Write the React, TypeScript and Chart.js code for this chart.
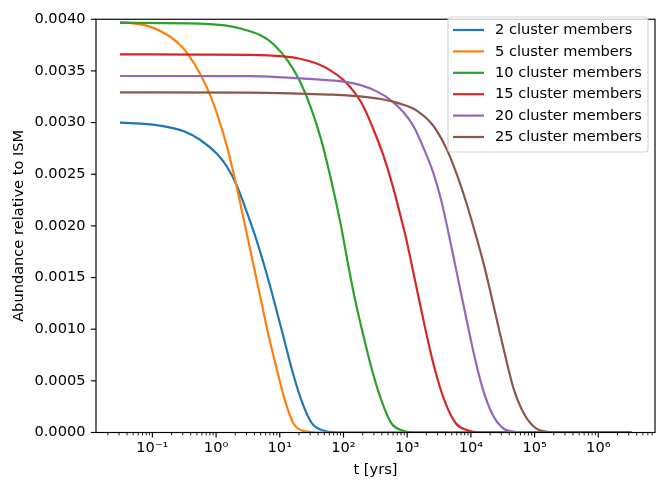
import React, { useEffect, useRef } from 'react';
import { Chart, registerables } from 'chart.js';

Chart.register(...registerables);

const seriesLabels = [
  '2 cluster members',
  '5 cluster members',
  '10 cluster members',
  '15 cluster members',
  '20 cluster members',
  '25 cluster members',
];
const seriesColors = ['#1f77b4', '#ff7f0e', '#2ca02c', '#d62728', '#9467bd', '#8c564b'];

const t2 = [0.031, 0.0533, 0.0917, 0.1677, 0.3055, 0.5587, 1.022, 1.467, 2.053, 2.742, 4.155, 5.964, 8.256, 11.23, 15.26, 21.91, 32.03, 51.23, 88.1, 3.3e6];
const y2 = [0.0030, 0.002993, 0.002982, 0.002959, 0.002918, 0.002834, 0.0027, 0.002577, 0.002409, 0.002209, 0.001893, 0.001575, 0.001259, 0.000943, 0.000625, 0.000309, 0.0000874, 0.0000143, 0, 0];

const t5 = [0.031, 0.05013, 0.0917, 0.1677, 0.2711, 0.3661, 0.5587, 0.8019, 1.083, 1.467, 2.053, 2.415, 3.111, 4.007, 5.16, 6.645, 8.876, 12.07, 16.41, 23.99, 39.79, 3.3e6];
const y5 = [0.003973, 0.003961, 0.003929, 0.003853, 0.003753, 0.003658, 0.003475, 0.00327, 0.003048, 0.002779, 0.002409, 0.002209, 0.001893, 0.001575, 0.001259, 0.000943, 0.000625, 0.000309, 0.0000874, 0.0000143, 0, 0];

const t10 = [0.031, 0.5587, 2.673, 7.904, 20.76, 42.76, 64.8, 91.35, 119.8, 151.5, 198.7, 275.1, 394.9, 567, 799, 1326, 3.3e6];
const y10 = [0.003965, 0.003957, 0.003903, 0.00376, 0.003397, 0.002874, 0.00243, 0.002, 0.001608, 0.00129, 0.000974, 0.000625, 0.000309, 0.0000874, 0.0000238, 0, 0];

const t15 = [0.031, 0.5587, 3.405, 11.34, 20.76, 37.95, 61.38, 99.27, 142.5, 204.6, 293.7, 421.6, 605, 819.8, 950.6, 1224, 1571, 2024, 2683, 3850, 5837, 8590, 13890, 3.3e6];
const y15 = [0.00366, 0.003658, 0.003656, 0.003641, 0.003618, 0.003571, 0.003508, 0.003413, 0.003306, 0.003159, 0.002938, 0.002684, 0.002368, 0.00205, 0.001893, 0.001575, 0.001259, 0.000943, 0.000625, 0.000309, 0.0000874, 0.0000238, 0, 0];

const t20 = [0.031, 3.405, 11.34, 37.95, 99.27, 181.6, 332, 537, 868.4, 1246, 1789, 2569, 3393, 4215, 5389, 6866, 8844, 11390, 15210, 21440, 31910, 47490, 75990, 3.3e6];
const y20 = [0.003451, 0.003449, 0.003437, 0.003418, 0.003397, 0.003365, 0.003302, 0.003223, 0.003102, 0.002969, 0.00276, 0.002513, 0.002256, 0.002, 0.001686, 0.001373, 0.00105, 0.000736, 0.000432, 0.000185, 0.0000428, 0.0000076, 0, 0];

const t25 = [0.031, 3.405, 20.76, 69.16, 181.6, 421.6, 770.4, 1410, 2569, 4215, 6050, 8530, 11600, 16060, 21060, 26640, 34310, 46300, 68170, 105200, 153800, 250500, 3.3e6];
const y25 = [0.003292, 0.00329, 0.00328, 0.00327, 0.003254, 0.003223, 0.003183, 0.003116, 0.002969, 0.002736, 0.002494, 0.002219, 0.001938, 0.00162, 0.001316, 0.00104, 0.000752, 0.000435, 0.000182, 0.0000399, 0.0000076, 0, 0];

const seriesT = [t2, t5, t10, t15, t20, t25];
const seriesY = [y2, y5, y10, y15, y20, y25];

const yTickStep = 0.0005;
const yMin = 0;
const yMax = 0.004;
const xMinExp = -1.885;
const xMaxExp = 6.89;

const FONT = '"DejaVu Sans", "Liberation Sans", sans-serif';
const FS = 14.6;

const SUP: Record<string, string> = {
  '-': '\u207B', '0': '\u2070', '1': '\u00B9', '2': '\u00B2', '3': '\u00B3',
  '4': '\u2074', '5': '\u2075', '6': '\u2076', '7': '\u2077', '8': '\u2078', '9': '\u2079',
};
const toSup = (n: number) => String(n).split('').map((c) => SUP[c] || c).join('');

const decorPlugin = {
  id: 'decor',
  afterDraw(chart: any) {
    const { ctx, chartArea: a, scales } = chart;
    const xs = scales.x;
    const ys = scales.y;
    ctx.save();
    ctx.strokeStyle = '#000';
    ctx.lineCap = 'butt';
    for (let e = -3; e <= 8; e++) {
      for (let k = 1; k <= 9; k++) {
        const v = k * Math.pow(10, e);
        if (v < xs.min || v > xs.max) continue;
        const px = xs.getPixelForValue(v);
        const major = k === 1;
        ctx.lineWidth = major ? 1.15 : 0.88;
        ctx.beginPath();
        ctx.moveTo(px, a.bottom);
        ctx.lineTo(px, a.bottom + (major ? 5.1 : 2.9));
        ctx.stroke();
      }
    }
    ctx.lineWidth = 1.15;
    ys.ticks.forEach((t: any) => {
      const py = ys.getPixelForValue(t.value);
      ctx.beginPath();
      ctx.moveTo(a.left - 5.1, py);
      ctx.lineTo(a.left, py);
      ctx.stroke();
    });
    ctx.lineWidth = 1.15;
    ctx.strokeRect(a.left, a.top, a.right - a.left, a.bottom - a.top);

    // legend
    const bx = 448, by = 17, bw = 200, bh = 135, r = 3;
    ctx.beginPath();
    ctx.moveTo(bx + r, by);
    ctx.lineTo(bx + bw - r, by);
    ctx.quadraticCurveTo(bx + bw, by, bx + bw, by + r);
    ctx.lineTo(bx + bw, by + bh - r);
    ctx.quadraticCurveTo(bx + bw, by + bh, bx + bw - r, by + bh);
    ctx.lineTo(bx + r, by + bh);
    ctx.quadraticCurveTo(bx, by + bh, bx, by + bh - r);
    ctx.lineTo(bx, by + r);
    ctx.quadraticCurveTo(bx, by, bx + r, by);
    ctx.closePath();
    ctx.fillStyle = 'rgba(255,255,255,0.8)';
    ctx.fill();
    ctx.strokeStyle = 'rgba(204,204,204,0.8)';
    ctx.lineWidth = 1.2;
    ctx.stroke();
    ctx.font = `${FS}px ${FONT}`;
    ctx.textBaseline = 'middle';
    ctx.textAlign = 'left';
    seriesLabels.forEach((lab, i) => {
      const cy = 30 + i * 21.4;
      ctx.strokeStyle = seriesColors[i];
      ctx.lineWidth = 2.2;
      ctx.beginPath();
      ctx.moveTo(453, cy);
      ctx.lineTo(484, cy);
      ctx.stroke();
      ctx.fillStyle = '#000';
      ctx.fillText(lab, 495, cy + 0.5);
    });
    ctx.restore();
  },
};

export default function App() {
  const ref = useRef<HTMLCanvasElement>(null);
  useEffect(() => {
    const datasets = seriesLabels.map((label, i) => ({
      label,
      data: seriesT[i].map((t, j) => ({ x: t, y: seriesY[i][j] })),
      borderColor: seriesColors[i],
      backgroundColor: seriesColors[i],
      borderWidth: 2.2,
      pointRadius: 0,
      fill: false,
      clip: 0,
      cubicInterpolationMode: 'monotone' as const,
      order: seriesLabels.length - i,
    }));
    const chart = new Chart(ref.current as HTMLCanvasElement, {
      type: 'line',
      data: { datasets },
      options: {
        responsive: false,
        animation: false,
        layout: { padding: { top: 11.5, right: 16, left: 0, bottom: 0 } },
        plugins: { legend: { display: false }, tooltip: { enabled: false } },
        scales: {
          x: {
            type: 'logarithmic',
            min: Math.pow(10, xMinExp),
            max: Math.pow(10, xMaxExp),
            grid: { display: false, drawTicks: false },
            border: { display: false },
            afterFit: (s: any) => { s.height = 51.5; },
            ticks: {
              autoSkip: false,
              maxRotation: 0,
              minRotation: 0,
              padding: 7,
              color: '#000',
              font: { family: FONT, size: FS },
              callback: (v: any) => {
                const l = Math.log10(Number(v));
                const rr = Math.round(l);
                if (Math.abs(l - rr) < 1e-6) return '10' + toSup(rr);
                return '';
              },
            },
            title: {
              display: true,
              text: 't [yrs]',
              color: '#000',
              font: { family: FONT, size: FS },
              padding: { top: 0, bottom: 4.7 },
            },
          },
          y: {
            type: 'linear',
            min: yMin,
            max: yMax,
            grid: { display: false, drawTicks: false },
            border: { display: false },
            afterFit: (s: any) => { s.width = 96; },
            ticks: {
              stepSize: yTickStep,
              padding: 10.5,
              color: '#000',
              font: { family: FONT, size: FS },
              callback: (v: any) => Number(v).toFixed(4),
            },
            title: {
              display: true,
              text: 'Abundance relative to ISM',
              color: '#000',
              font: { family: FONT, size: FS },
              padding: { top: 10.8, bottom: 0 },
            },
          },
        },
      },
      plugins: [decorPlugin],
    } as any);
    return () => chart.destroy();
  }, []);
  return (
    <div style={{ position: 'fixed', left: 0, top: 0, width: 671, height: 484, background: '#fff' }}>
      <canvas ref={ref} width={671} height={484} style={{ display: 'block' }} />
    </div>
  );
}
